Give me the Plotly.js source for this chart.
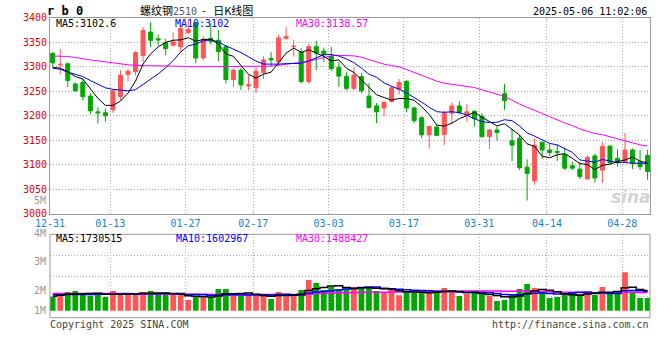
<!DOCTYPE html>
<html><head><meta charset="utf-8">
<script src="https://cdn.plot.ly/plotly-3.0.1.min.js"></script>
<style>html,body{margin:0;padding:0;background:#fff}</style>
</head><body><div id="chart" style="width:660px;height:360px"></div>
<script>
// ---- data ----
const dates = ['12-31','01-02','01-03','01-06','01-07','01-08','01-09','01-10','01-13','01-14',
 '01-15','01-16','01-17','01-20','01-21','01-22','01-23','01-24','01-27','02-05',
 '02-06','02-07','02-10','02-11','02-12','02-13','02-14','02-17','02-18','02-19',
 '02-20','02-21','02-24','02-25','02-26','02-27','02-28','03-03','03-04','03-05',
 '03-06','03-07','03-10','03-11','03-12','03-13','03-14','03-17','03-18','03-19',
 '03-20','03-21','03-24','03-25','03-26','03-27','03-28','03-31','04-01','04-02',
 '04-03','04-07','04-08','04-09','04-10','04-11','04-14','04-15','04-16','04-17',
 '04-18','04-21','04-22','04-23','04-24','04-25','04-28','04-29','04-30','05-06'];
const opens = [3327,3304,3306,3265,3268,3240,3208,3206,3212,3239,
 3284,3290,3323,3371,3357,3349,3344,3341,3370,3389,
 3318,3358,3354,3341,3274,3293,3261,3257,3288,3317,
 3310,3358,3341,3330,3270,3341,3332,3321,3299,3280,
 3256,3280,3240,3220,3216,3229,3254,3270,3216,3196,
 3161,3177,3162,3205,3220,3203,3209,3199,3157,3171,
 3245,3149,3154,3095,3067,3146,3130,3127,3121,3098,
 3091,3071,3118,3089,3138,3113,3106,3130,3106,3119];
const highs = [3330,3336,3309,3268,3276,3246,3217,3215,3254,3293,
 3295,3332,3381,3391,3366,3357,3370,3385,3395,3392,
 3363,3390,3375,3344,3297,3298,3283,3299,3321,3330,
 3365,3381,3355,3338,3347,3353,3339,3341,3310,3290,
 3299,3287,3266,3226,3230,3261,3275,3273,3219,3199,
 3180,3182,3210,3227,3230,3224,3211,3205,3173,3178,
 3265,3173,3161,3111,3154,3147,3144,3142,3135,3107,
 3105,3119,3123,3146,3139,3131,3165,3133,3130,3130];
const lows = [3300,3285,3259,3249,3231,3203,3184,3188,3206,3232,
 3270,3283,3310,3340,3343,3323,3341,3329,3366,3307,
 3313,3345,3311,3266,3259,3252,3252,3246,3275,3300,
 3303,3355,3321,3266,3266,3293,3310,3292,3259,3252,
 3252,3246,3215,3185,3199,3227,3243,3207,3185,3154,
 3133,3158,3140,3183,3203,3188,3178,3157,3132,3149,
 3212,3107,3089,3027,3059,3112,3118,3108,3089,3089,
 3071,3070,3063,3063,3102,3096,3105,3091,3089,3069];
const closes = [3308,3305,3272,3251,3239,3210,3206,3200,3251,3283,
 3291,3329,3374,3354,3355,3337,3351,3378,3376,3318,
 3356,3352,3331,3274,3293,3263,3263,3291,3314,3314,
 3359,3362,3342,3270,3341,3328,3325,3296,3281,3256,
 3283,3251,3217,3208,3227,3257,3268,3216,3190,3161,
 3178,3160,3205,3220,3207,3208,3194,3157,3171,3166,
 3231,3140,3094,3082,3140,3130,3125,3125,3093,3093,
 3076,3115,3073,3137,3104,3104,3130,3103,3096,3086];
const volumes = [1774000,1865000,1933000,1967000,1830000,1810000,1900000,1764000,1967000,1830000,
 1830000,1900000,1933000,1967000,1865000,1830000,1830000,1830000,1663000,1797000,
 1750000,1764000,2034000,2034000,1797000,1797000,1820000,1820000,1820000,1697000,
 1933000,1787000,1865000,2000000,2337000,2236000,2000000,2100000,2034000,2034000,
 2100000,2100000,2100000,1967000,1933000,2067000,1820000,1933000,1900000,1900000,
 2000000,1900000,2067000,1967000,1800000,1865000,1900000,1865000,1800000,1630000,
 1663000,1865000,2034000,2200000,2067000,1933000,1730000,1764000,1865000,1900000,
 1865000,1933000,1830000,2100000,1900000,1967000,2600000,1900000,1730000,1730000];
// moving-average values before enough history is on screen
const ma5Head  = [3299,3297,3290,3280];
const ma10Head = [3297,3295,3289,3285,3280,3272,3264,3257,3254];
const ma30Head = [3322,3322,3321,3319,3316,3314,3312,3310,3307,3305,
 3304,3303,3302,3302,3302,3302,3301,3301,3300,3300,
 3300,3300,3300,3300,3300,3300,3301,3301,3301];
const volMa5Head  = [1790000,1820000,1860000,1870000];
const volMa10Head = [1840000,1840000,1850000,1850000,1850000,1850000,1860000,1860000,1860000];
const volMa30Head = [1880000,1880000,1880000,1880000,1880000,1880000,1880000,1880000,1880000,1880000,
 1880000,1860000,1860000,1860000,1860000,1860000,1860000,1860000,1860000,1860000,
 1860000,1850000,1850000,1850000,1850000,1850000,1850000,1850000,1850000];
const tickDates = ['12-31','01-13','01-27','02-17','03-03','03-17','03-31','04-14','04-28'];
const priceTicks = [3000,3050,3100,3150,3200,3250,3300,3350,3400];
const legendPrice = {ma5:'MA5:3102.6', ma10:'MA10:3102', ma30:'MA30:3138.57'};
const legendVol = {ma5:'MA5:1730515', ma10:'MA10:1602967', ma30:'MA30:1488427'};
const volLabels = ['5M','4M','3M','2M','1M'];

// ---- helpers ----
const idx = dates.map((d,i)=>i);
function movingAvg(arr, n, head){
  return arr.map((v,i)=>{
    if(i < n-1) return head[i];
    let s=0; for(let k=i-n+1;k<=i;k++) s+=arr[k];
    return s/n;
  });
}
const RED='#ff5555', GREEN='#00a800';
const volColors = closes.map((c,i)=> c>=opens[i] ? RED : GREEN);
const H=360, L=50, R=650;
const px = x => (x-L)/(R-L);
const py = y => (H-y)/H;
const MONO = 'DejaVu Sans Mono';
const tickvals = tickDates.map(d=>dates.indexOf(d)-0.36);
const xr = [-0.36, 79.32];

const traces = [
  {type:'candlestick', x:idx, open:opens, high:highs, low:lows, close:closes,
   xaxis:'x', yaxis:'y', whiskerwidth:0, hoverinfo:'skip',
   increasing:{line:{color:RED,width:1}, fillcolor:RED},
   decreasing:{line:{color:GREEN,width:1}, fillcolor:GREEN}},
  {type:'scatter', mode:'lines', x:idx, y:movingAvg(closes,30,ma30Head), line:{color:'#ff00ff',width:1}, xaxis:'x', yaxis:'y', hoverinfo:'skip'},
  {type:'scatter', mode:'lines', x:idx, y:movingAvg(closes,10,ma10Head), line:{color:'#0000ff',width:1}, xaxis:'x', yaxis:'y', hoverinfo:'skip'},
  {type:'scatter', mode:'lines', x:idx, y:movingAvg(closes,5,ma5Head), line:{color:'#000000',width:1}, xaxis:'x', yaxis:'y', hoverinfo:'skip'},
  {type:'bar', x:idx, y:volumes, marker:{color:volColors, line:{width:0}}, xaxis:'x2', yaxis:'y2', hoverinfo:'skip'},
  {type:'scatter', mode:'lines', x:idx, y:movingAvg(volumes,30,volMa30Head), line:{color:'#ff00ff',width:1.5,shape:'hvh'}, xaxis:'x2', yaxis:'y2', hoverinfo:'skip'},
  {type:'scatter', mode:'lines', x:idx, y:movingAvg(volumes,10,volMa10Head), line:{color:'#0000ff',width:1.5,shape:'hvh'}, xaxis:'x2', yaxis:'y2', hoverinfo:'skip'},
  {type:'scatter', mode:'lines', x:idx, y:movingAvg(volumes,5,volMa5Head), line:{color:'#000000',width:1.5,shape:'hvh'}, xaxis:'x2', yaxis:'y2', hoverinfo:'skip'}
];

function ann(text, x, y, color, size, xanchor, extra){
  return Object.assign({text:text, x:px(x), y:py(y), xref:'paper', yref:'paper',
    xanchor:xanchor||'left', yanchor:'middle', showarrow:false, borderpad:0,
    font:{family:MONO, size:size||10, color:color||'#000'}}, extra||{});
}
const annotations = [
  ann('<b>r b 0</b>', 46, 11, '#000', 12, 'left', {font:{family:'DejaVu Sans Mono', size:12, color:'#000'}}),
  ann('螺纹钢<span style="font-family:DejaVu Sans Mono;font-size:10px;color:#555">2510</span>&nbsp; -&nbsp;&nbsp; 日K线图', 139, 9.5, '#000', 11, 'left', {font:{family:'Noto Sans CJK SC', size:11, color:'#000'}}),
  ann('2025-05-06 11:02:06', 648, 11, '#000', 10, 'right'),
  ann(legendPrice.ma5, 55, 24, '#000'),
  ann(legendPrice.ma10, 174, 24, '#0000ff'),
  ann(legendPrice.ma30, 295, 24, '#ff00ff'),
  ann(legendVol.ma5, 55, 238.5, '#000'),
  ann(legendVol.ma10, 175, 238.5, '#0000ff'),
  ann(legendVol.ma30, 295, 238.5, '#ff00ff'),
  ann(volLabels[0], 47, 200.5, '#999', 10, 'right'),
  ann(volLabels[1], 47, 233.5, '#999', 10, 'right'),
  ann(volLabels[2], 47, 261, '#999', 10, 'right'),
  ann(volLabels[3], 47, 290, '#999', 10, 'right'),
  ann(volLabels[4], 47, 310, '#999', 10, 'right'),
  ann('Copyright 2025 SINA.COM', 49, 324, '#444'),
  ann('http://finance.sina.com.cn', 650, 324, '#444', 10, 'right'),
  ann('<i><b>sina</b></i>', 652, 197, '#d4d4d4', 17, 'right', {font:{family:'DejaVu Sans', size:17, color:'#d4d4d4'}})
];

const gridDash = '1px,2px';
const layout = {
  width:660, height:360, autosize:false,
  margin:{l:50, r:10, t:0, b:0, pad:0},
  paper_bgcolor:'#fff', plot_bgcolor:'#fff',
  showlegend:false, boxgap:0.24, bargap:0.24, dragmode:false,
  xaxis:{domain:[0,1], anchor:'y', range:xr, tickmode:'array', tickvals:tickvals, ticktext:tickDates,
    showgrid:true, gridcolor:'#b0b0b0', griddash:gridDash, gridwidth:1, zeroline:false,
    showline:true, mirror:true, linecolor:'#9a9a9a', linewidth:1, ticks:'',
    tickfont:{family:MONO, size:10, color:'#1a80d0'}, rangeslider:{visible:false}, fixedrange:true},
  yaxis:{domain:[py(213.7), py(17.8)], anchor:'x', range:[3000,3400], tickmode:'array', tickvals:priceTicks,
    showgrid:true, gridcolor:'#b0b0b0', griddash:gridDash, gridwidth:1, zeroline:false,
    showline:true, mirror:true, linecolor:'#9a9a9a', linewidth:1, ticks:'',
    tickfont:{family:MONO, size:10, color:'#e60000'}, fixedrange:true},
  xaxis2:{domain:[0,1], anchor:'y2', range:xr, tickmode:'array', tickvals:tickvals, showticklabels:false,
    showgrid:true, gridcolor:'#b0b0b0', griddash:gridDash, gridwidth:1, zeroline:false, showline:false, ticks:'', fixedrange:true},
  yaxis2:{domain:[py(310.7), py(234.3)], anchor:'x2', range:[1.303e6, 3.875e6], tickmode:'array',
    tickvals:[1.768e6, 2.471e6, 3.172e6], showticklabels:false,
    showgrid:true, gridcolor:'#b0b0b0', griddash:gridDash, gridwidth:1, zeroline:false, showline:false, ticks:'', fixedrange:true},
  shapes:[{type:'rect', xref:'paper', yref:'paper', x0:0, x1:1, y0:py(317.7), y1:py(234.3),
    line:{color:'#9a9a9a', width:1}, fillcolor:'rgba(0,0,0,0)', layer:'above'}],
  annotations:annotations
};
Plotly.newPlot('chart', traces, layout, {displayModeBar:false, staticPlot:true});
</script></body></html>
